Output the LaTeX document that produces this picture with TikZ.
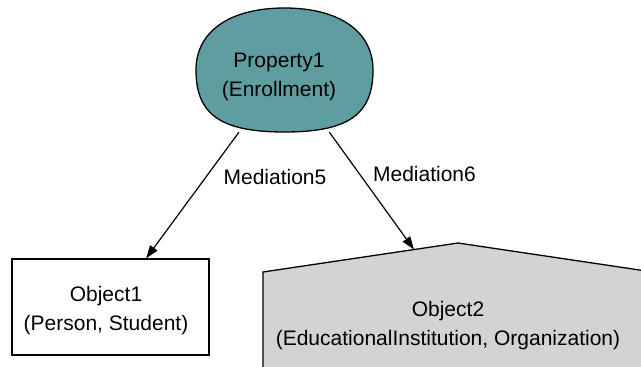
\documentclass[tikz,border=0pt]{standalone}
\usepackage{fontspec}
\setmainfont{Liberation Sans}
\usetikzlibrary{arrows.meta}
\definecolor{cadet}{RGB}{95,158,160}
\definecolor{housegray}{RGB}{211,211,211}
\begin{document}
\begin{tikzpicture}[x=1pt,y=-1pt,
  every node/.style={font=\fontsize{21}{29}\selectfont, inner sep=0pt},
  outline/.style={draw=black, line width=1.3pt},
  txt/.style={align=center},
  edgelabel/.style={anchor=base},
  arr/.style={draw=black, line width=1.2pt, -{Triangle[length=13pt,width=9pt]}},
  ]
\useasboundingbox (0,0) rectangle (641,367);
\clip (0,0) rectangle (641,367);

% property node: a rounded blob
\node[minimum width=177pt, minimum height=124pt] (prop) at (284.5,70) {};
\filldraw[fill=cadet, outline] (373,70) .. controls (373,31.6) and (339.4,8) .. (284.5,8)
  .. controls (229.6,8) and (196,31.6) .. (196,70)
  .. controls (196,114.6) and (220.8,132) .. (284.5,132)
  .. controls (348.2,132) and (373,114.6) .. (373,70) -- cycle;
\node[txt] (proptext) at (279,77) {Property1\\(Enrollment)};

% first object: plain box
\node[outline, fill=white, minimum width=197pt, minimum height=96pt] (obj1) at (110.5,307) {};
\node[txt] (obj1text) at (106,311) {Object1\\(Person, Student)};

% second object: house shape running off the lower right
\fill[housegray] (263,380) -- (263,272) -- (458,243) -- (653,272) -- (653,380) -- cycle;
\draw[outline, line join=miter] (263,380) -- (263,272) -- (458,243) -- (653,272) -- (653,380);
\coordinate (obj2tip) at (414,249.5);
\node[txt] (obj2text) at (448,326) {Object2\\(EducationalInstitution, Organization)};

% connectors
\draw[arr] (prop) -- (obj1);
\draw[arr] (prop) -- (obj2tip);
\node[edgelabel] (m5) at (275,184) {Mediation5};
\node[edgelabel] (m6) at (424.5,181) {Mediation6};
\end{tikzpicture}
\end{document}
